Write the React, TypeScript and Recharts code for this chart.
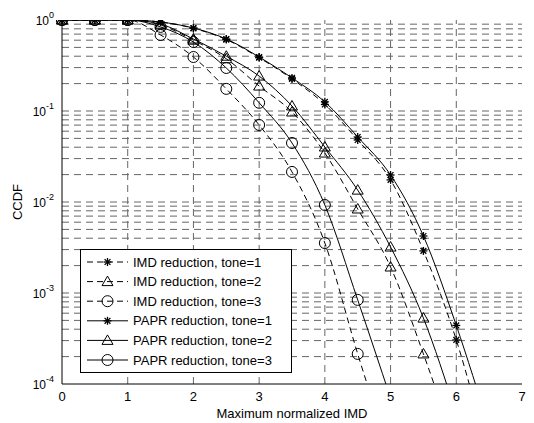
import React from 'react'
import {
  LineChart,
  Line,
  XAxis,
  YAxis,
  ReferenceLine,
  Legend,
} from 'recharts'

// CCDF of the maximum normalized IMD, IMD vs PAPR reduction (log y axis).

const W = 534
const H = 423
const FONT = '"Liberation Sans", Arial, Helvetica, sans-serif'

const X_VALUES = [0, 0.5, 1, 1.5, 2, 2.5, 3, 3.5, 4, 4.5, 5, 5.5, 6, 6.5]
const X_TICKS = [0, 1, 2, 3, 4, 5, 6, 7]
const X_GRID = [1, 2, 3, 4, 5, 6]
const Y_TICKS = [1e-4, 1e-3, 1e-2, 1e-1, 1]

// values, one per X_VALUES entry (shorter = line ends)
const IMD_TONE1 = [1, 1, 1, 0.95, 0.81, 0.61, 0.385, 0.225, 0.118, 0.048, 0.0175, 0.0029, 0.000305, 0.000015]
const IMD_TONE2 = [1, 1, 1, 0.88, 0.6, 0.375, 0.188, 0.0975, 0.0345, 0.00838, 0.00193, 0.000214, 0.000019]
const IMD_TONE3 = [1, 1, 1, 0.684, 0.392, 0.175, 0.0702, 0.0214, 0.00354, 0.000214, 0.000016]
const PAPR_TONE1 = [1, 1, 1, 0.95, 0.817, 0.618, 0.392, 0.231, 0.126, 0.0518, 0.0198, 0.00423, 0.00044, 0.000033]
const PAPR_TONE2 = [1, 1, 1, 0.9, 0.618, 0.4, 0.242, 0.1135, 0.0402, 0.0135, 0.0032, 0.00053, 0.000047]
const PAPR_TONE3 = [1, 1, 1, 0.84, 0.573, 0.297, 0.123, 0.0445, 0.00927, 0.00084, 0.00007]

const SERIES = [
  { key: 'imd1', name: 'IMD reduction, tone=1', values: IMD_TONE1, marker: 'star', dashed: true },
  { key: 'imd2', name: 'IMD reduction, tone=2', values: IMD_TONE2, marker: 'triangle', dashed: true },
  { key: 'imd3', name: 'IMD reduction, tone=3', values: IMD_TONE3, marker: 'circle', dashed: true },
  { key: 'papr1', name: 'PAPR reduction, tone=1', values: PAPR_TONE1, marker: 'star', dashed: false },
  { key: 'papr2', name: 'PAPR reduction, tone=2', values: PAPR_TONE2, marker: 'triangle', dashed: false },
  { key: 'papr3', name: 'PAPR reduction, tone=3', values: PAPR_TONE3, marker: 'circle', dashed: false },
]

const rows = X_VALUES.map((x, i) => {
  const row: Record<string, number | null> = { x }
  SERIES.forEach((s) => {
    row[s.key] = i < s.values.length ? s.values[i] : null
  })
  return row
})

// minor log grid: 2..9 x 10^k plus the inner decades
const Y_GRID: number[] = []
for (let k = -4; k < 0; k++) {
  for (let m = 1; m <= 9; m++) {
    const v = m * Math.pow(10, k)
    if (v > 1e-4) Y_GRID.push(v)
  }
}

const DASH = '6 4'

function Marker({ type, cx, cy }: { type: string; cx: number; cy: number }) {
  if (type === 'star') {
    const r = 4
    const d = 2.9
    return (
      <g stroke="#000" strokeWidth={1.3}>
        <line x1={cx - r} y1={cy} x2={cx + r} y2={cy} />
        <line x1={cx} y1={cy - r} x2={cx} y2={cy + r} />
        <line x1={cx - d} y1={cy - d} x2={cx + d} y2={cy + d} />
        <line x1={cx - d} y1={cy + d} x2={cx + d} y2={cy - d} />
      </g>
    )
  }
  if (type === 'triangle') {
    return (
      <polygon
        points={`${cx},${cy - 5.5} ${cx - 5.5},${cy + 4} ${cx + 5.5},${cy + 4}`}
        fill="none"
        stroke="#000"
        strokeWidth={1}
      />
    )
  }
  return <circle cx={cx} cy={cy} r={5.5} fill="none" stroke="#000" strokeWidth={1} />
}

const makeDot = (type: string) => (props: any) => {
  const { cx, cy, value, index, dataKey } = props
  const key = `${dataKey}-${index}`
  if (value == null || value < 1e-4 || cx == null || cy == null) return <g key={key} />
  return (
    <g key={key}>
      <Marker type={type} cx={cx} cy={cy} />
    </g>
  )
}

function YTick(props: any) {
  const { x, y, payload } = props
  const exp = Math.round(Math.log10(payload.value))
  return (
    <text x={x} y={y + 5} textAnchor="end" fontSize={12} fill="#000" fontFamily={FONT}>
      10
      <tspan dy={-7} fontSize={9}>
        {exp}
      </tspan>
    </text>
  )
}

function ChartLegend() {
  const step = 19.6
  return (
    <svg width={212} height={124} style={{ display: 'block' }}>
      <rect x={0.5} y={0.5} width={211} height={123} fill="#fff" stroke="#000" />
      {SERIES.map((s, i) => {
        const cy = 13 + i * step
        return (
          <g key={s.key}>
            <line
              x1={7}
              y1={cy}
              x2={48}
              y2={cy}
              stroke="#000"
              strokeDasharray={s.dashed ? DASH : undefined}
            />
            <Marker type={s.marker} cx={27.5} cy={cy} />
            <text x={53} y={cy + 4.5} fontSize={13} fill="#000" fontFamily={FONT}>
              {s.name}
            </text>
          </g>
        )
      })}
    </svg>
  )
}

export default function App() {
  return (
    <div
      style={{
        position: 'absolute',
        left: 0,
        top: 0,
        width: W,
        height: H,
        background: '#fff',
        fontFamily: FONT,
      }}
    >
      <LineChart width={W} height={H} data={rows} margin={{ top: 20, right: 12, bottom: 0, left: 2 }}>
        <XAxis
          dataKey="x"
          type="number"
          domain={[0, 7]}
          ticks={X_TICKS}
          height={39}
          tickLine={false}
          axisLine={{ stroke: '#000' }}
          tick={{ fontSize: 13, fill: '#000', fontFamily: FONT }}
          label={{
            value: 'Maximum normalized IMD',
            position: 'insideBottom',
            offset: 5,
            fontSize: 13,
            fill: '#000',
            fontFamily: FONT,
          }}
        />
        <XAxis
          xAxisId="top"
          orientation="top"
          type="number"
          domain={[0, 7]}
          height={0}
          tick={false}
          tickLine={false}
          axisLine={{ stroke: '#000' }}
        />
        <YAxis
          type="number"
          scale="log"
          domain={[1e-4, 1]}
          allowDataOverflow
          ticks={Y_TICKS}
          width={60}
          tickLine={false}
          axisLine={{ stroke: '#000' }}
          tick={<YTick />}
          label={{
            content: () => (
              <text
                x={22}
                y={202}
                transform="rotate(-90, 22, 202)"
                textAnchor="middle"
                fontSize={13}
                fill="#000"
                fontFamily={FONT}
              >
                CCDF
              </text>
            ),
          }}
        />
        <YAxis
          yAxisId="right"
          orientation="right"
          type="number"
          domain={[0, 1]}
          width={0}
          tick={false}
          tickLine={false}
          axisLine={{ stroke: '#000' }}
        />

        {Y_GRID.map((v) => (
          <ReferenceLine key={`gy-${v}`} y={v} stroke="#666" strokeDasharray="7 5" />
        ))}
        {X_GRID.map((v) => (
          <ReferenceLine key={`gx-${v}`} x={v} stroke="#666" strokeDasharray="7 5" />
        ))}

        {SERIES.map((s) => (
          <Line
            key={s.key}
            dataKey={s.key}
            name={s.name}
            type="monotone"
            stroke="#000"
            strokeWidth={1}
            strokeDasharray={s.dashed ? DASH : undefined}
            dot={makeDot(s.marker)}
            activeDot={false}
            isAnimationActive={false}
          />
        ))}

        <Legend
          layout="vertical"
          align="center"
          verticalAlign="middle"
          wrapperStyle={{ left: 80, top: 249, width: 212, height: 124 }}
          content={() => <ChartLegend />}
        />
      </LineChart>
    </div>
  )
}
